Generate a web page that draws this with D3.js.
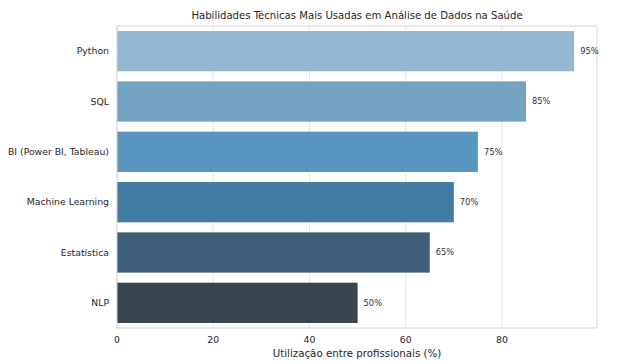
<!DOCTYPE html>
<html>
<head>
<meta charset="utf-8">
<script src="https://cdn.jsdelivr.net/npm/d3@7"></script>
<style>
  body { margin: 0; background: #fff; }
  svg { font-family: "DejaVu Sans", sans-serif; }
</style>
</head>
<body>
<svg width="635" height="364"></svg>
<script>

const skills = ["Python", "SQL", "BI (Power BI, Tableau)", "Machine Learning", "Estatística", "NLP"];
const usage = [95, 85, 75, 70, 65, 50];
const colors = ["#93b7d1", "#74a2c3", "#5895c1", "#437ca3", "#3e5e79", "#38454f"];
const xTicks = [0, 20, 40, 60, 80];

function draw_chart() {

  const svg = d3.select("svg");

  const plotLeft = 117, plotRight = 597, plotTop = 26, plotBottom = 328;

  const x = d3.scaleLinear().domain([0, 99.75]).range([plotLeft, plotRight]);
  const y = d3.scaleBand().domain(skills).range([plotTop, plotBottom]).paddingInner(0.2).paddingOuter(0.1);

  // grid
  svg.selectAll(".grid").data(xTicks).enter().append("line")
    .attr("x1", d => x(d)).attr("x2", d => x(d))
    .attr("y1", plotTop).attr("y2", plotBottom)
    .style("stroke", "#e6e6e6")
    .style("stroke-width", 1)

  // bars
  svg.selectAll(".bar").data(skills).enter().append("rect")
    .attr("class", "bar")
    .attr("x", x(0))
    .attr("y", d => y(d))
    .attr("width", (d, i) => x(usage[i]) - x(0))
    .attr("height", y.bandwidth())
    .style("fill", (d, i) => colors[i])

  // frame
  svg.append("rect")
    .attr("x", plotLeft).attr("y", plotTop)
    .attr("width", plotRight - plotLeft).attr("height", plotBottom - plotTop)
    .style("fill", "none")
    .style("stroke", "#d6d6d6")
    .style("stroke-width", 1)

  // value labels
  svg.selectAll(".val").data(skills).enter().append("text")
    .attr("x", (d, i) => x(usage[i]) + 6)
    .attr("y", d => y(d) + y.bandwidth() / 2)
    .attr("dy", "0.35em")
    .style("font-size", "8.3px")
    .style("fill", "#333")
    .text((d, i) => usage[i] + "%")

  // y labels
  svg.selectAll(".ylab").data(skills).enter().append("text")
    .attr("x", plotLeft - 8)
    .attr("y", d => y(d) + y.bandwidth() / 2)
    .attr("dy", "0.35em")
    .attr("text-anchor", "end")
    .style("font-size", "9.3px")
    .style("fill", "#262626")
    .text(d => d)

  // x tick labels
  svg.selectAll(".xlab").data(xTicks).enter().append("text")
    .attr("x", d => x(d))
    .attr("y", plotBottom + 15)
    .attr("text-anchor", "middle")
    .style("font-size", "9.3px")
    .style("fill", "#262626")
    .text(d => d)

  // axis title
  svg.append("text")
    .attr("x", (plotLeft + plotRight) / 2)
    .attr("y", 357)
    .attr("text-anchor", "middle")
    .style("font-size", "10.25px")
    .style("fill", "#262626")
    .text("Utilização entre profissionais (%)")

  // title
  svg.append("text")
    .attr("x", (plotLeft + plotRight) / 2)
    .attr("y", 19)
    .attr("text-anchor", "middle")
    .style("font-size", "10.1px")
    .style("fill", "#262626")
    .text("Habilidades Técnicas Mais Usadas em Análise de Dados na Saúde")
}

draw_chart();

</script>
</body>
</html>
